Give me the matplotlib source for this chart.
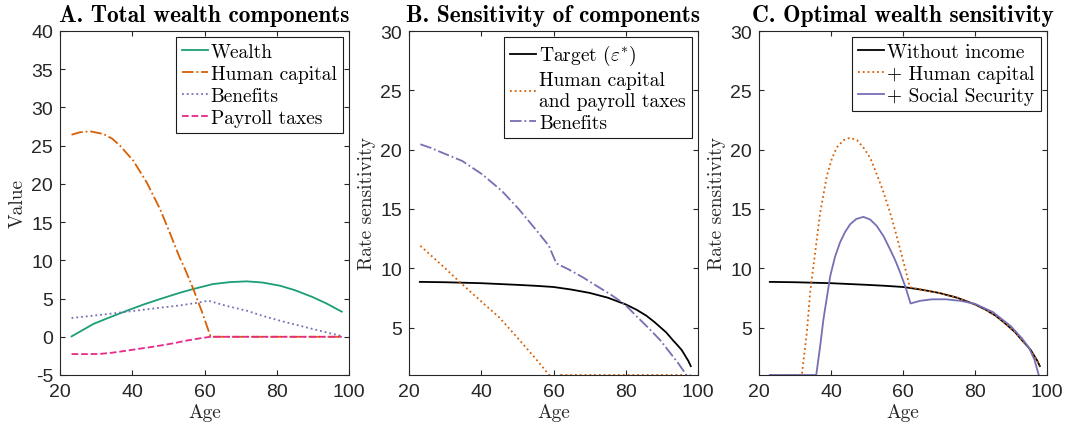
import numpy as np
import matplotlib
matplotlib.use("Agg")
import matplotlib.pyplot as plt

plt.rcParams['mathtext.fontset'] = 'cm'
plt.rcParams['axes.unicode_minus'] = False

# ---- panel A: total wealth components
age_wealth = [23.2, 26, 29.2, 33, 38.45, 43, 47.7, 53.2, 56.9, 62.4, 67, 71.7, 76, 80.9, 85, 90.1, 94, 98]
wealth = [0.05, 0.8, 1.67, 2.4, 3.4, 4.2, 4.94, 5.76, 6.25, 6.9, 7.15, 7.25, 7.1, 6.68, 6.1, 5.16, 4.3, 3.28]

age_hc = [23.2, 25.5, 28.3, 32, 34.5, 36.6, 40.3, 44, 47.7, 50.4, 53, 54.6, 56.9, 59.2, 61.7, 98]
human_capital = [26.43, 26.75, 26.88, 26.53, 25.9, 25.0, 23.03, 20.2, 16.7, 13.6, 10.5, 8.86, 6.25, 3.4, 0.0, 0.0]

age_ben = [23.2, 30, 38.9, 46, 53.2, 58, 61.05, 66, 71.7, 76, 80.9, 85.5, 90.1, 94, 97.5, 98]
benefits = [2.46, 2.8, 3.3, 3.7, 4.1, 4.45, 4.72, 4.05, 3.41, 2.75, 2.1, 1.55, 1.0, 0.55, 0.14, 0.05]

age_tax = [23.2, 28, 31.1, 34.5, 38.45, 42, 45.8, 49, 51.8, 55, 58.75, 61.7, 98]
payroll = [-2.26, -2.27, -2.24, -2.08, -1.82, -1.56, -1.3, -1.05, -0.82, -0.5, -0.2, 0.0, 0.0]

# ---- panel B: sensitivity of components
age_target = [23, 30, 40, 45, 50, 55, 60, 65, 70, 75, 80, 83, 85.7, 88, 91.2, 93, 94.5, 95.5, 96.5, 97.3, 98]
target = [8.85, 8.82, 8.74, 8.67, 8.6, 8.52, 8.42, 8.2, 7.92, 7.52, 6.95, 6.5, 6.0, 5.45, 4.59, 3.95, 3.45, 3.1, 2.6, 2.2, 1.75]

age_hcp = [23.15, 30, 34, 40, 45, 50, 55, 58.8, 61, 61.9, 62, 98]
hc_payroll = [11.89, 10.0, 8.85, 7.2, 5.85, 4.15, 2.4, 1.0, 0.3, 0.3, 1.0, 1.0]

age_ben_b = [23.15, 26, 29.1, 34.7, 40.2, 45.7, 50.4, 55, 58.7, 60.8, 64.2, 68.2, 72, 76, 79.7, 83, 86.6, 89.5, 92.2, 94.5, 96.8]
benefits_b = [20.45, 20.15, 19.75, 19.05, 17.93, 16.52, 14.98, 13.3, 11.9, 10.4, 9.9, 9.22, 8.5, 7.75, 6.97, 5.95, 4.87, 3.95, 2.9, 2.0, 1.0]

# ---- panel C: optimal wealth sensitivity
age_plus_hc = [23, 31.9, 33.3, 34.2, 35.6, 37.0, 38.85, 40.2, 41.6, 43.5, 45.3, 47.2, 49.0, 50.9, 52.7, 54.6, 56.4, 57.8, 59.2, 60.6, 61.9,
               65, 70, 75, 80, 83, 85.7, 88, 91.2, 93, 94.5, 95.5, 96.5, 97.3, 98]
plus_hc = [1.0, 1.0, 4.6, 7.96, 11.33, 14.7, 17.78, 19.2, 20.18, 20.8, 21.0, 20.8, 20.18, 19.3, 17.93, 16.4, 14.7, 13.2, 11.6, 10.0, 8.4,
           8.2, 7.92, 7.52, 6.95, 6.5, 6.0, 5.45, 4.59, 3.95, 3.45, 3.1, 2.6, 2.2, 1.75]

age_ss = [23, 35.9, 37.0, 37.9, 39.8, 41.1, 42.5, 43.9, 45.3, 47.0, 49.0, 50.9, 52.7, 54.6, 56.4, 57.8, 59.2, 60.7, 62.1, 64.7, 68, 72, 76,
          80, 85, 90, 93, 95, 96.5, 97.8]
plus_ss = [1.0, 1.0, 3.46, 5.7, 9.36, 10.95, 12.17, 13.05, 13.7, 14.15, 14.33, 14.1, 13.57, 12.7, 11.6, 10.7, 9.65, 8.4, 7.03, 7.25, 7.38,
           7.38, 7.25, 7.0, 6.3, 5.1, 4.1, 3.3, 2.3, 0.9]

green = '#1b9e77'
orange = '#d95f02'
purple = '#7570b3'
pink = '#e7298a'
axcol = '#262626'

fig = plt.figure(figsize=(10.68, 4.31), dpi=100)
W, H = 1068.0, 431.0
boxes = [(60, 349), (409, 698), (759, 1047)]
top, bottom = 32, 376

tick_size = 14
lab_font = {'family': 'cmr10', 'size': 14}
title_font = {'family': 'cmb10', 'size': 16.8}
leg_font = {'family': 'cmr10', 'size': 14}


def setup(ax, ylim, yticks, title, ylabel):
    ax.set_xlim(20, 100)
    ax.set_ylim(*ylim)
    ax.set_xticks([20, 40, 60, 80, 100])
    ax.set_yticks(yticks)
    ax.tick_params(direction='in', length=3.5, width=0.8, top=True, right=True,
                   color=axcol, labelcolor=axcol)
    ax.tick_params(axis='x', pad=6)
    ax.tick_params(axis='y', pad=5)
    for lab in ax.get_xticklabels() + ax.get_yticklabels():
        lab.set_fontfamily('Liberation Sans')
        lab.set_fontsize(tick_size)
    for s in ax.spines.values():
        s.set_color(axcol)
        s.set_linewidth(0.8)
    ax.set_title(title, fontdict=title_font, pad=7)
    ax.set_xlabel('Age', fontdict=lab_font, color=axcol, labelpad=2)
    ax.set_ylabel(ylabel, fontdict=lab_font, color=axcol, labelpad=3)


axes = []
for x0, x1 in boxes:
    ax = fig.add_axes([x0 / W, (H - bottom) / H, (x1 - x0) / W, (bottom - top) / H])
    axes.append(ax)

lw = 1.3
legkw = dict(loc='upper right', prop=leg_font, frameon=True, fancybox=False, framealpha=1,
             edgecolor='0.1', handlelength=1.35, handletextpad=0.15, labelspacing=0.2,
             borderpad=0.3, borderaxespad=0.33)

# A
ax = axes[0]
ax.plot(age_wealth, wealth, color=green, lw=lw, ls='-', label='Wealth')
ax.plot(age_hc, human_capital, color=orange, lw=lw, ls='-.', label='Human capital')
ax.plot(age_ben, benefits, color=purple, lw=lw, ls=':', label='Benefits')
ax.plot(age_tax, payroll, color=pink, lw=lw, ls='--', label='Payroll taxes')
setup(ax, (-5, 40), np.arange(-5, 41, 5), 'A. Total wealth components', 'Value')
leg = ax.legend(**legkw)
leg.get_frame().set_linewidth(0.8)

# B
ax = axes[1]
ax.plot(age_target, target, color='black', lw=lw, ls='-', label=r'Target ($\varepsilon^{*}$)')
ax.plot(age_hcp, hc_payroll, color=orange, lw=lw, ls=':', label='Human capital\nand payroll taxes')
ax.plot(age_ben_b, benefits_b, color=purple, lw=lw, ls='-.', label='Benefits')
setup(ax, (1, 30), [5, 10, 15, 20, 25, 30], 'B. Sensitivity of components', 'Rate sensitivity')
leg = ax.legend(**legkw)
leg.get_frame().set_linewidth(0.8)

# C
ax = axes[2]
ax.plot(age_target, target, color='black', lw=lw, ls='-', label='Without income')
ax.plot(age_plus_hc, plus_hc, color=orange, lw=lw, ls=':', label='+ Human capital')
ax.plot(age_ss, plus_ss, color=purple, lw=lw, ls='-', label='+ Social Security')
setup(ax, (1, 30), [5, 10, 15, 20, 25, 30], 'C. Optimal wealth sensitivity', 'Rate sensitivity')
leg = ax.legend(**legkw)
leg.get_frame().set_linewidth(0.8)

fig.savefig('out.png', dpi=100)
